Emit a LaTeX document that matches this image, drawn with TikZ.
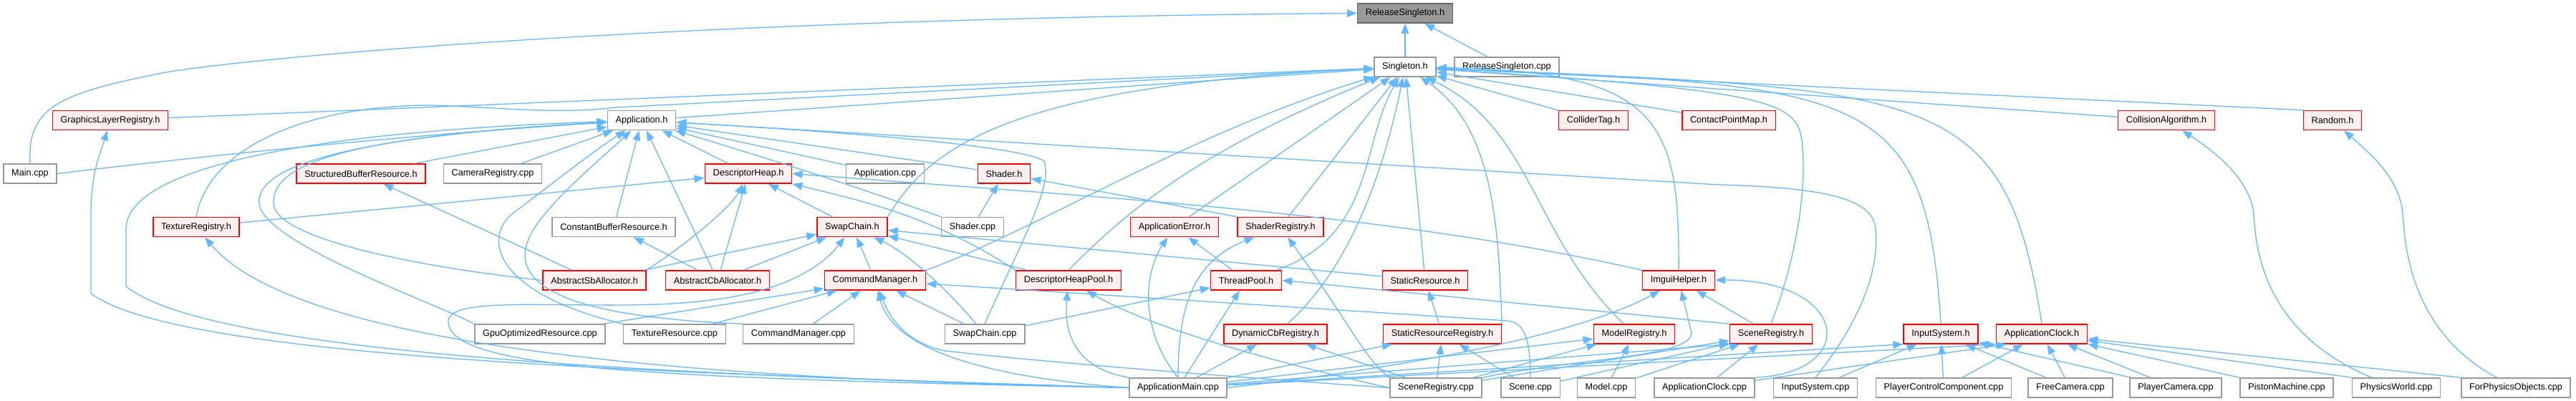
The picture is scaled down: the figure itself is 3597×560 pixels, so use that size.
\documentclass[tikz,border=0pt]{standalone}
\usepackage{fontspec}
\setmainfont{Liberation Sans}
\definecolor{edgeBlue}{RGB}{99,184,255}
\definecolor{hdrRed}{RGB}{255,0,0}
\definecolor{hdrFill}{RGB}{255,240,240}
\definecolor{srcGray}{RGB}{153,153,153}
\definecolor{curGray}{RGB}{153,153,153}
\definecolor{curLine}{RGB}{102,102,102}
\usepackage{tikz}
\usetikzlibrary{arrows.meta}

\begin{document}
\begin{tikzpicture}[
    x=0.02cm, y=-0.02cm,
    every node/.style={font=\fontsize{7.23}{8.7}\selectfont},
    filebox/.style={rectangle, line width=0.03cm, minimum height=0.54cm, inner xsep=0.225cm, inner ysep=0pt},
    hdr/.style={filebox, draw=hdrRed, fill=hdrFill},
    src/.style={filebox, draw=srcGray, fill=white},
    cur/.style={filebox, draw=curLine, fill=curGray},
    arrow/.style={-{Triangle[length=0.28cm, width=0.21cm]}, line width=0.026cm, edgeBlue}
  ]
  \useasboundingbox (0,0) rectangle (3597,560);

  \node[cur] (relh) at (1962,18.5) {ReleaseSingleton.h};

  \node[src] (sing) at (1962,93.5) {Singleton.h};
  \node[src] (relcpp) at (2104,93.5) {ReleaseSingleton.cpp};

  \node[hdr] (glr) at (154,168) {GraphicsLayerRegistry.h};
  \node[src] (apph) at (896,168) {Application.h};
  \node[hdr] (coll) at (2225,168) {ColliderTag.h};
  \node[hdr] (cpm) at (2414,168) {ContactPointMap.h};
  \node[hdr] (calg) at (3025,168) {CollisionAlgorithm.h};
  \node[hdr] (rnd) at (3257,168) {Random.h};

  \node[src] (maincpp) at (42,242.5) {Main.cpp};
  \node[hdr] (sbr) at (504,242.5) {StructuredBufferResource.h};
  \node[src] (camcpp) at (688,242.5) {CameraRegistry.cpp};
  \node[hdr] (dh) at (1045,242.5) {DescriptorHeap.h};
  \node[src] (appcpp) at (1236,242.5) {Application.cpp};
  \node[hdr] (shh) at (1402,242.5) {Shader.h};

  \node[hdr] (texreg) at (274,317) {TextureRegistry.h};
  \node[src] (cbr) at (857,317) {ConstantBufferResource.h};
  \node[hdr] (swh) at (1190,317) {SwapChain.h};
  \node[src] (shcpp) at (1358,317) {Shader.cpp};
  \node[hdr] (aerr) at (1640,317) {ApplicationError.h};
  \node[hdr] (shreg) at (1788,317) {ShaderRegistry.h};

  \node[hdr] (sba) at (830,391.5) {AbstractSbAllocator.h};
  \node[hdr] (cba) at (1002,391.5) {AbstractCbAllocator.h};
  \node[hdr] (cmh) at (1222,391.5) {CommandManager.h};
  \node[hdr] (dhp) at (1492,391.5) {DescriptorHeapPool.h};
  \node[hdr] (thp) at (1740,391.5) {ThreadPool.h};
  \node[hdr] (sres) at (1990,391.5) {StaticResource.h};
  \node[hdr] (imgui) at (2344,391.5) {ImguiHelper.h};

  \node[src] (gpucpp) at (754,466.5) {GpuOptimizedResource.cpp};
  \node[src] (texcpp) at (942,466.5) {TextureResource.cpp};
  \node[src] (cmcpp) at (1115,466.5) {CommandManager.cpp};
  \node[src] (swcpp) at (1375,466.5) {SwapChain.cpp};
  \node[hdr] (dcb) at (1781,466.5) {DynamicCbRegistry.h};
  \node[hdr] (srr) at (2014,466.5) {StaticResourceRegistry.h};
  \node[hdr] (mreg) at (2282,466.5) {ModelRegistry.h};
  \node[hdr] (screg) at (2473,466.5) {SceneRegistry.h};
  \node[hdr] (inh) at (2710,466.5) {InputSystem.h};
  \node[hdr] (clkh) at (2851,466.5) {ApplicationClock.h};

  \node[src] (amain) at (1645,541.5) {ApplicationMain.cpp};
  \node[src] (srcpp) at (2005,541.5) {SceneRegistry.cpp};
  \node[src] (scncpp) at (2137,541.5) {Scene.cpp};
  \node[src] (mdlcpp) at (2243,541.5) {Model.cpp};
  \node[src] (clkcpp) at (2380,541.5) {ApplicationClock.cpp};
  \node[src] (incpp) at (2535,541.5) {InputSystem.cpp};
  \node[src] (pcc) at (2714,541.5) {PlayerControlComponent.cpp};
  \node[src] (fcam) at (2891,541.5) {FreeCamera.cpp};
  \node[src] (pcam) at (3038,541.5) {PlayerCamera.cpp};
  \node[src] (piston) at (3193,541.5) {PistonMachine.cpp};
  \node[src] (pworld) at (3346,541.5) {PhysicsWorld.cpp};
  \node[src] (fpo) at (3513,541.5) {ForPhysicsObjects.cpp};

  \draw[arrow] (sing) -- (relh);
  \draw[arrow] (relcpp) -- (relh);
  \draw[arrow] (maincpp.north) .. controls (38,150) and (80,130) .. (237,100) .. controls (400,75) and (1000,25) .. (relh.west);

  \draw[arrow] (glr) -- (sing);
  \draw[arrow] (apph) -- (sing);
  \draw[arrow] (texreg.north) .. controls (290,210) and (420,148) .. (600,147) .. controls (700,150) and (780,160) .. (860,150) -- (sing);
  \draw[arrow] (swh.north east) .. controls (1300,200) and (1420,120) .. (sing);
  \draw[arrow] (cmh.north east) .. controls (1450,320) and (1650,190) .. (sing);
  \draw[arrow] (dhp.north) .. controls (1560,310) and (1650,220) .. (sing);
  \draw[arrow] (aerr) -- (sing);
  \draw[arrow] (shreg) -- (sing);
  \draw[arrow] (thp) .. controls (1920,330) and (1900,200) .. (sing);
  \draw[arrow] (dcb) .. controls (1880,380) and (1930,250) .. (sing);
  \draw[arrow] (sres) -- (sing);
  \draw[arrow] (srr.north east) .. controls (2092,330) and (2090,180) .. (sing);
  \draw[arrow] (mreg) .. controls (2140,330) and (2140,180) .. (sing);
  \draw[arrow] (imgui) .. controls (2345,170) and (2320,100) .. (sing);
  \draw[arrow] (screg.north) .. controls (2520,330) and (2522,230) .. (2515,190) .. controls (2505,140) and (2450,125) .. (sing);
  \draw[arrow] (inh.north) .. controls (2690,120) and (2600,120) .. (sing);
  \draw[arrow] (clkh.north) .. controls (2800,120) and (2700,125) .. (sing);
  \draw[arrow] (coll) -- (sing);
  \draw[arrow] (cpm) -- (sing);
  \draw[arrow] (calg) -- (sing);
  \draw[arrow] (rnd.north west) -- (sing);

  \draw[arrow] (maincpp.east) .. controls (350,210) and (620,185) .. (apph);
  \draw[arrow] (amain.west) .. controls (1000,525) and (300,500) .. (176,400) -- (176,320) .. controls (176,240) and (400,185) .. (apph);
  \draw[arrow] (gpucpp.north west) .. controls (600,420) and (370,340) .. (362,285) .. controls (355,230) and (500,190) .. (apph);
  \draw[arrow] (sba.west) .. controls (560,370) and (385,330) .. (382,285) .. controls (378,225) and (500,190) .. (apph);
  \draw[arrow] (sbr) -- (apph);
  \draw[arrow] (camcpp) -- (apph);
  \draw[arrow] (dh) -- (apph);
  \draw[arrow] (appcpp) -- (apph);
  \draw[arrow] (shh) -- (apph);
  \draw[arrow] (cbr) -- (apph);
  \draw[arrow] (cba) -- (apph);
  \draw[arrow] (texcpp.north west) .. controls (690,410) and (670,330) .. (720,295) .. controls (760,265) and (830,210) .. (apph);
  \draw[arrow] (cmcpp.north west) .. controls (720,440) and (700,370) .. (760,300) .. controls (790,262) and (850,212) .. (apph);
  \draw[arrow] (swcpp.north) .. controls (1430,330) and (1470,260) .. (1458,225) .. controls (1420,200) and (1100,180) .. (apph);
  \draw[arrow] (shcpp.north west) .. controls (1220,270) and (1150,245) .. (apph);
  \draw[arrow] (incpp.north) .. controls (2620,420) and (2622,350) .. (2619,320) .. controls (2616,275) and (2540,262) .. (2400,258) -- (apph);

  \draw[arrow] (texreg) -- (dh);
  \draw[arrow] (sba.north east) .. controls (960,340) and (1020,290) .. (dh);
  \draw[arrow] (cba) -- (dh);
  \draw[arrow] (swh) -- (dh);
  \draw[arrow] (dhp.north west) .. controls (1300,300) and (1200,280) .. (dh.south east);
  \draw[arrow] (imgui.north west) .. controls (1950,300) and (1600,280) .. (dh.east);

  \draw[arrow] (sba) -- (swh);
  \draw[arrow] (cba) -- (swh);
  \draw[arrow] (cmh) -- (swh);
  \draw[arrow] (dhp) -- (swh);
  \draw[arrow] (swcpp) .. controls (1310,390) and (1260,350) .. (swh);
  \draw[arrow] (sres) -- (swh);
  \draw[arrow] (amain.west) .. controls (900,528) and (630,515) .. (626,450) .. controls (622,405) and (850,440) .. (1000,418) .. controls (1100,405) and (1150,370) .. (swh);

  \draw[arrow] (cba) -- (cbr);
  \draw[arrow] (sba) -- (sbr);
  \draw[arrow] (shcpp) -- (shh);
  \draw[arrow] (shreg.north west) -- (shh);

  \draw[arrow] (amain.west) .. controls (1000,530) and (420,490) .. (texreg);
  \draw[arrow] (amain.west) .. controls (900,520) and (250,500) .. (127,410) -- (127,300) .. controls (127,240) and (140,215) .. (glr);

  \draw[arrow] (gpucpp) -- (cmh);
  \draw[arrow] (texcpp) -- (cmh);
  \draw[arrow] (cmcpp) -- (cmh);
  \draw[arrow] (swcpp) -- (cmh);
  \draw[arrow] (scncpp.north) .. controls (2137,470) and (2127,450) .. (2105,448) -- (cmh);
  \draw[arrow] (amain.west) .. controls (1350,525) and (1245,480) .. (cmh);
  \draw[arrow] (srcpp.west) .. controls (1700,525) and (1450,505) .. (1320,490) .. controls (1270,480) and (1245,450) .. (cmh);

  \draw[arrow] (amain.north west) .. controls (1505,515) and (1485,470) .. (dhp);
  \draw[arrow] (srcpp.west) .. controls (1820,515) and (1620,465) .. (dhp);

  \draw[arrow] (amain.north) .. controls (1590,460) and (1598,380) .. (aerr);
  \draw[arrow] (thp) -- (aerr);

  \draw[arrow] (amain.north) .. controls (1645,430) and (1665,365) .. (shreg);
  \draw[arrow] (srcpp.north west) .. controls (1905,500) and (1890,460) .. (shreg);

  \draw[arrow] (swcpp) -- (thp);
  \draw[arrow] (amain) -- (thp);
  \draw[arrow] (screg.north west) -- (thp.east);

  \draw[arrow] (amain) -- (dcb);
  \draw[arrow] (srcpp) -- (dcb);

  \draw[arrow] (srr) -- (sres);

  \draw[arrow] (amain) -- (srr);
  \draw[arrow] (srcpp) -- (srr);
  \draw[arrow] (scncpp) -- (srr);

  \draw[arrow] (amain.east) .. controls (1950,515) and (2200,470) .. (imgui);
  \draw[arrow] (srcpp.north east) .. controls (2200,500) and (2360,500) .. (2362,465) -- (imgui);
  \draw[arrow] (screg) -- (imgui);
  \draw[arrow] (clkcpp.north east) .. controls (2600,520) and (2580,390) .. (imgui);

  \draw[arrow] (amain) -- (mreg);
  \draw[arrow] (srcpp) -- (mreg);
  \draw[arrow] (mdlcpp) -- (mreg);

  \draw[arrow] (amain) -- (screg.south west);
  \draw[arrow] (srcpp) -- (screg);
  \draw[arrow] (scncpp) -- (screg);
  \draw[arrow] (mdlcpp) -- (screg);
  \draw[arrow] (clkcpp) -- (screg);

  \draw[arrow] (amain) -- (inh.south west);
  \draw[arrow] (incpp) -- (inh);
  \draw[arrow] (pcc) -- (inh);
  \draw[arrow] (fcam) -- (inh);
  \draw[arrow] (pcam) -- (inh);

  \draw[arrow] (amain) -- (clkh.south west);
  \draw[arrow] (clkcpp) -- ([xshift=0.3cm]clkh.south west);
  \draw[arrow] (pcc) -- (clkh);
  \draw[arrow] (fcam) -- (clkh);
  \draw[arrow] (pcam) -- (clkh);
  \draw[arrow] (piston.north west) -- (clkh);
  \draw[arrow] (pworld.north west) -- (clkh);
  \draw[arrow] (fpo.north west) -- (clkh);

  \draw[arrow] (pworld) .. controls (3150,460) and (3150,330) .. (3147,300) .. controls (3143,250) and (3090,210) .. (calg);
  \draw[arrow] (fpo) .. controls (3360,460) and (3358,330) .. (3355,300) .. controls (3352,250) and (3310,215) .. (rnd);
\end{tikzpicture}
\end{document}
